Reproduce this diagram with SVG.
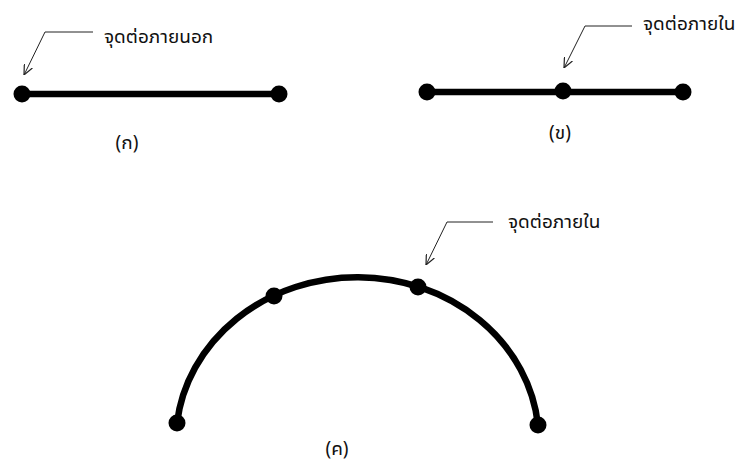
<svg xmlns="http://www.w3.org/2000/svg" width="746" height="460" viewBox="0 0 746 460">
<defs>
<marker id="arr" viewBox="0 0 10 10" refX="10" refY="5" markerWidth="10" markerHeight="10" orient="auto" markerUnits="userSpaceOnUse">
<path d="M0,0.5 L10,5 L0,9.5" fill="none" stroke="#222" stroke-width="1.2"/>
</marker>
</defs>
<style>
.seg{stroke:#000;stroke-width:6.5;fill:none;stroke-linecap:round}
.dot{fill:#000}
.lead{stroke:#222;stroke-width:1;fill:none}
.t{font-family:"Noto Sans Thai UI","Noto Sans Thai","Leelawadee UI","Tahoma","Noto Sans","Liberation Sans",sans-serif;font-size:19px;fill:#111}
.c{text-anchor:middle}
</style>
<rect width="746" height="460" fill="#fff"/>
<g id="panel-a">
<line class="seg" x1="22" y1="94" x2="279" y2="94"/>
<circle class="dot" cx="22" cy="94" r="8.5"/>
<circle class="dot" cx="279" cy="94" r="8.5"/>
<text class="t c" x="127" y="149">(ก)</text>
</g>
<g id="panel-b">
<line class="seg" x1="427" y1="92" x2="683" y2="92"/>
<circle class="dot" cx="427" cy="92" r="8.5"/>
<circle class="dot" cx="563" cy="91" r="8.5"/>
<circle class="dot" cx="683" cy="92" r="8.5"/>
<text class="t c" x="560" y="139">(ข)</text>
</g>
<g id="panel-c">
<path class="seg" d="M177,423 A181.5 164 0 0 1 538,425"/>
<circle class="dot" cx="177" cy="423" r="8.5"/>
<circle class="dot" cx="274" cy="296" r="8.5"/>
<circle class="dot" cx="418" cy="287" r="8.5"/>
<circle class="dot" cx="538" cy="425" r="8.5"/>
<text class="t c" x="337" y="455">(ค)</text>
</g>
<g id="connectors">
<polyline class="lead" points="93,32 45,32 24,75" marker-end="url(#arr)"/>
<polyline class="lead" points="632,26 585,26 564,68" marker-end="url(#arr)"/>
<polyline class="lead" points="493,222 447,222 426,265" marker-end="url(#arr)"/>
</g>
<g id="labels">
<text class="t" x="104" y="43">จุดต่อภายนอก</text>
<text class="t" x="643" y="30">จุดต่อภายใน</text>
<text class="t" x="508" y="228">จุดต่อภายใน</text>
</g>
</svg>
